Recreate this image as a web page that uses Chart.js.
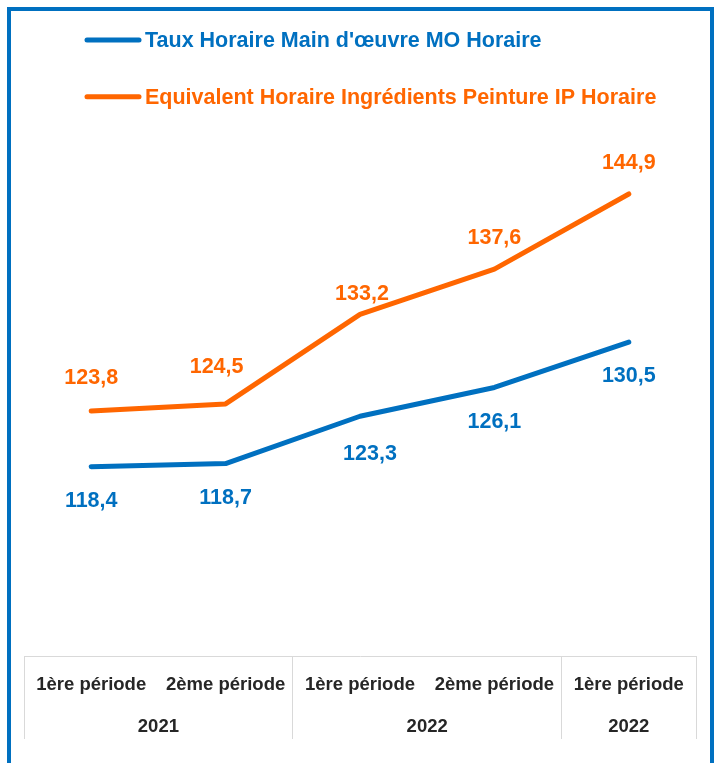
<!DOCTYPE html>
<html>
<head>
<meta charset="utf-8">
<script src="https://cdn.jsdelivr.net/npm/chart.js@4"></script>
<style>
    body { margin: 0; overflow: hidden; background: #fff; }
    #cadre {
        position: absolute; left: 7px; top: 7px; width: 699px; height: 800px;
        border: 4px solid #0070C0; pointer-events: none;
    }
    #graphique { position: absolute; left: 0; top: 0; }
</style>
</head>
<body>
<canvas id="graphique" width="717" height="763"></canvas>
<div id="cadre"></div>
<script>
// Données
const periodes = ['1ère période', '2ème période', '1ère période', '2ème période', '1ère période'];
const annees = ['2021', '2022', '2022'];
const anneesNbPeriodes = [2, 2, 1];
const tauxMO = [118.4, 118.7, 123.3, 126.1, 130.5];
const ingredientsIP = [123.8, 124.5, 133.2, 137.6, 144.9];

const BLEU = '#0070C0';
const ORANGE = '#FF6600';
const POLICE = "'Liberation Sans', Arial, sans-serif";

// petits décalages des étiquettes (comme dans l'original)
const decalageMO = [[0, 34], [0, 35], [10, 38], [0, 35], [0, 34]];
const decalageIP = [[0, -33], [-9, -37], [2, -20], [0, -31], [0, -31]];

// --- Légende dessinée à la main (lignes + texte) ---
const legendePlugin = {
    id: 'legende',
    afterDraw(chart) {
        const ctx = chart.ctx;
        ctx.save();
        chart.data.datasets.forEach((ds, i) => {
            const y = 40 + i * 56.7;
            ctx.strokeStyle = ds.borderColor;
            ctx.lineWidth = 5;
            ctx.lineCap = 'round';
            ctx.beginPath();
            ctx.moveTo(87, y);
            ctx.lineTo(139, y);
            ctx.stroke();
            ctx.fillStyle = ds.borderColor;
            ctx.font = 'bold 21.5px ' + POLICE;
            ctx.textAlign = 'left';
            ctx.textBaseline = 'middle';
            ctx.fillText(ds.label, 145, y + 1);
        });
        ctx.restore();
    }
};

// --- Étiquettes des valeurs ---
const etiquettesPlugin = {
    id: 'etiquettes',
    afterDatasetsDraw(chart) {
        const ctx = chart.ctx;
        ctx.save();
        ctx.font = 'bold 21.5px ' + POLICE;
        ctx.textAlign = 'center';
        ctx.textBaseline = 'middle';
        chart.data.datasets.forEach((ds, i) => {
            const meta = chart.getDatasetMeta(i);
            ctx.fillStyle = ds.borderColor;
            meta.data.forEach((pt, j) => {
                const texte = ds.data[j].toFixed(1).replace('.', ',');
                const d = ds.decalage[j];
                ctx.fillText(texte, pt.x + d[0], pt.y + d[1]);
            });
        });
        ctx.restore();
    }
};

// --- Années sous les périodes ---
const anneesPlugin = {
    id: 'annees',
    afterDraw(chart) {
        const x = chart.scales.x;
        const ctx = chart.ctx;
        ctx.save();
        ctx.font = 'bold 18.5px ' + POLICE;
        ctx.fillStyle = '#262626';
        ctx.textAlign = 'center';
        ctx.textBaseline = 'middle';
        let debut = 0;
        annees.forEach((a, k) => {
            const fin = debut + anneesNbPeriodes[k] - 1;
            const cx = (x.getPixelForValue(debut) + x.getPixelForValue(fin)) / 2;
            ctx.fillText(a, cx, 727);
            debut = fin + 1;
        });
        ctx.restore();
    }
};

// indices des séparations verticales (début de chaque année + fin)
const separations = [0];
anneesNbPeriodes.reduce((acc, n) => { separations.push(acc + n); return acc + n; }, 0);

new Chart(document.getElementById('graphique'), {
    type: 'line',
    data: {
        labels: periodes,
        datasets: [
            {
                label: "Taux Horaire Main d'œuvre MO Horaire",
                data: tauxMO,
                borderColor: BLEU,
                backgroundColor: BLEU,
                borderWidth: 5,
                borderCapStyle: 'round',
                borderJoinStyle: 'round',
                pointRadius: 0,
                decalage: decalageMO
            },
            {
                label: 'Equivalent Horaire Ingrédients Peinture IP Horaire',
                data: ingredientsIP,
                borderColor: ORANGE,
                backgroundColor: ORANGE,
                borderWidth: 5,
                borderCapStyle: 'round',
                borderJoinStyle: 'round',
                pointRadius: 0,
                decalage: decalageIP
            }
        ]
    },
    options: {
        responsive: false,
        devicePixelRatio: 1,
        animation: false,
        layout: { padding: { left: 24, right: 21, top: 141.5, bottom: 0 } },
        plugins: {
            legend: { display: false },
            tooltip: { enabled: false }
        },
        scales: {
            x: {
                offset: true,
                afterFit: (scale) => { scale.height = 107; },
                border: { display: true, color: '#d9d9d9', width: 1 },
                grid: {
                    offset: true,
                    drawOnChartArea: false,
                    drawTicks: true,
                    tickLength: 83,
                    lineWidth: 1,
                    color: (c) => (c.index === undefined || separations.includes(c.index)) ? '#d9d9d9' : 'rgba(0,0,0,0)'
                },
                ticks: {
                    autoSkip: false,
                    maxRotation: 0,
                    padding: -65,
                    color: '#262626',
                    font: { family: POLICE, size: 18.5, weight: 'bold' }
                }
            },
            y: {
                display: false,
                min: 100,
                max: 150
            }
        }
    },
    plugins: [legendePlugin, etiquettesPlugin, anneesPlugin]
});
</script>
</body>
</html>
